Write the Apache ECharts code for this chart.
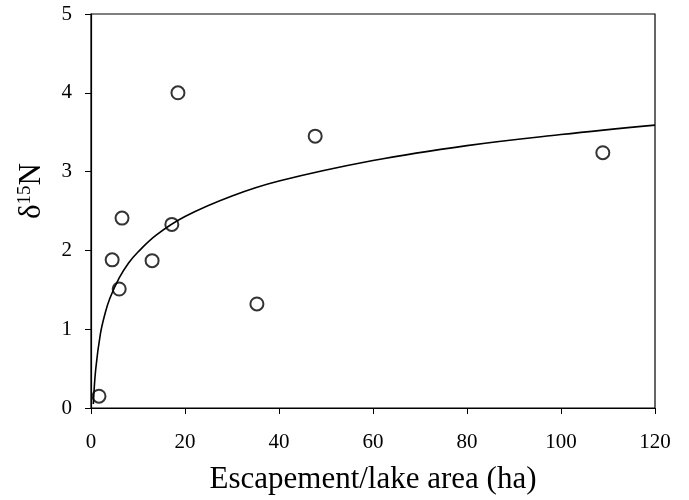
<!DOCTYPE html>
<html>
<head>
<meta charset="utf-8">
<script src="https://cdn.jsdelivr.net/npm/echarts@6/dist/echarts.min.js"></script>
<style>
  html, body { margin: 0; padding: 0; background: #fff; }
  #chart1 { width: 689px; height: 500px; }
</style>
</head>
<body>
<div id="chart1"></div>
<script>
// observed points (escapement/lake area, d15N)
var obsX = [1.7, 4.5, 6.0, 6.6, 13.0, 17.2, 18.5, 35.3, 47.7, 108.9];
var obsY = [0.15, 1.88, 1.51, 2.41, 1.87, 2.33, 4.00, 1.32, 3.45, 3.24];

// fitted curve
var curveX = [0.5, 1, 2, 3, 4, 6, 8, 10, 14, 20, 30, 40, 60, 80, 100, 120];
var curveY = [0.05, 0.49, 0.94, 1.20, 1.39, 1.65, 1.84, 1.98, 2.20, 2.43, 2.69, 2.88, 3.14, 3.33, 3.47, 3.59];

var xTicks = [0, 20, 40, 60, 80, 100, 120];
var yTicks = [0, 1, 2, 3, 4, 5];

var fontName = 'Liberation Serif';

function pairs(xs, ys) {
    var out = [];
    for (var i = 0; i < xs.length; i++) {
        out.push([xs[i], ys[i]]);
    }
    return out;
}

var chart1 = echarts.init(document.getElementById('chart1'));
var option = {
    animation: false,
    backgroundColor: '#fff',
    grid: {
        left: 91,
        right: 34,
        top: 14,
        bottom: 92,
        outerBoundsMode: 'none',
        show: true,
        borderColor: '#000',
        borderWidth: 1.2
    },
    xAxis: {
        type: 'value',
        min: xTicks[0],
        max: xTicks[xTicks.length - 1],
        interval: 20,
        name: 'Escapement/lake area (ha)',
        nameLocation: 'middle',
        nameGap: 56,
        nameTextStyle: { fontFamily: fontName, fontSize: 31, color: '#000' },
        axisLine: { lineStyle: { color: '#000', width: 1.2 } },
        axisTick: { show: true, inside: false, length: 6, lineStyle: { color: '#000' } },
        axisLabel: { fontFamily: fontName, fontSize: 21, color: '#000', margin: 24 },
        splitLine: { show: false }
    },
    yAxis: {
        type: 'value',
        min: yTicks[0],
        max: yTicks[yTicks.length - 1],
        interval: 1,
        axisLine: { show: true, lineStyle: { color: '#000', width: 1.2 } },
        axisTick: { show: true, inside: false, length: 6, lineStyle: { color: '#000' } },
        axisLabel: { fontFamily: fontName, fontSize: 21, color: '#000', margin: 19 },
        splitLine: { show: false }
    },
    graphic: [{
        type: 'text',
        left: 16,
        top: 163,
        rotation: Math.PI / 2,
        style: {
            text: '{d|δ}{s|15}{d|N}',
            rich: {
                d: { fontFamily: fontName, fontSize: 31, fill: '#000' },
                s: { fontFamily: fontName, fontSize: 19, fill: '#000', verticalAlign: 'top', padding: [0, 0, 12, 0] }
            }
        }
    }],
    series: [{
        name: 'fit',
        type: 'line',
        data: pairs(curveX, curveY),
        smooth: 0.4,
        showSymbol: false,
        lineStyle: { color: '#000', width: 1.6 },
        z: 2
    }, {
        name: 'obs',
        type: 'scatter',
        data: pairs(obsX, obsY),
        symbol: 'circle',
        symbolSize: 13,
        itemStyle: { color: 'rgba(0,0,0,0)', borderColor: '#000', borderWidth: 2 },
        z: 3
    }]
};
chart1.setOption(option);
</script>
</body>
</html>
